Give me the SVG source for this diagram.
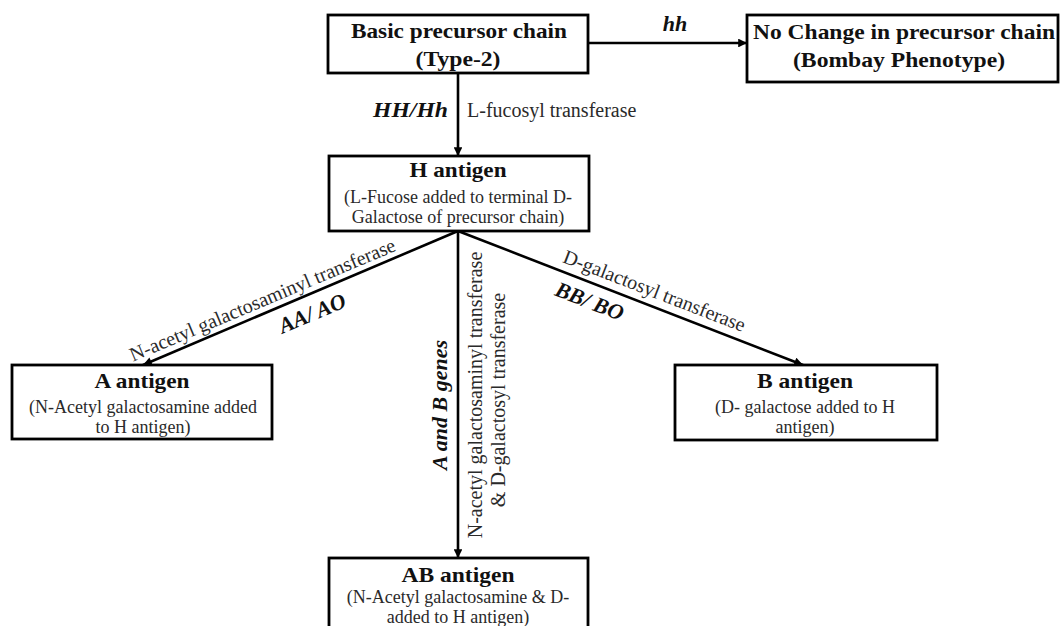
<svg xmlns="http://www.w3.org/2000/svg" width="1060" height="626" viewBox="0 0 1060 626">
  <style>
    .box { fill: #ffffff; stroke: #000000; stroke-width: 2.8; }
    .title { font-family: "Liberation Serif", "Times New Roman", serif; font-weight: bold; font-size: 21.5px; fill: #111; text-anchor: middle; }
    .sub { font-family: "Liberation Serif", "Times New Roman", serif; font-size: 18px; fill: #2a2a2a; text-anchor: middle; }
    .lbl { font-family: "Liberation Serif", "Times New Roman", serif; font-size: 20px; fill: #2a2a2a; }
    .gene { font-family: "Liberation Serif", "Times New Roman", serif; font-size: 22px; font-weight: bold; font-style: italic; fill: #111; }
    .link { stroke: #000000; stroke-width: 2.6; fill: none; marker-end: url(#arrow); }
  </style>
  <defs>
    <marker id="arrow" viewBox="0 0 10 10" refX="10" refY="5" markerWidth="3.6" markerHeight="3.4" markerUnits="strokeWidth" orient="auto">
      <path d="M0,0 L10,5 L0,10 z" fill="#000000"/>
    </marker>
  </defs>

  <!-- connectors with their labels -->
  <g id="connectors">
    <line class="link" x1="588" y1="43" x2="747" y2="43"/>
    <line class="link" x1="458" y1="73" x2="458" y2="156"/>
    <line class="link" x1="458" y1="231" x2="143" y2="365"/>
    <line class="link" x1="458" y1="231" x2="803" y2="365"/>
    <line class="link" x1="458" y1="231" x2="458" y2="558"/>

    <text class="gene" x="675" y="31" text-anchor="middle" font-size="23">hh</text>
    <text class="gene" x="448" y="117" text-anchor="end" textLength="75" lengthAdjust="spacingAndGlyphs">HH/Hh</text>
    <text class="lbl" x="467" y="117">L-fucosyl transferase</text>

    <text class="lbl" transform="translate(265,306) rotate(-22.9)" text-anchor="middle">N-acetyl galactosaminyl transferase</text>
    <text class="gene" transform="translate(315,320) rotate(-22.9)" text-anchor="middle">AA/ AO</text>

    <text class="lbl" transform="translate(652,297) rotate(21.2)" text-anchor="middle">D-galactosyl transferase</text>
    <text class="gene" transform="translate(587,308) rotate(21.2)" text-anchor="middle" font-size="23">BB/ BO</text>

    <text class="gene" transform="translate(447,405) rotate(-90)" text-anchor="middle">A and B genes</text>
    <text class="lbl" transform="translate(482,395) rotate(-90)" text-anchor="middle">N-acetyl galactosaminyl transferase</text>
    <text class="lbl" transform="translate(505,400) rotate(-90)" text-anchor="middle">&amp; D-galactosyl transferase</text>
  </g>

  <!-- nodes -->
  <g id="precursor">
    <rect class="box" x="328" y="15" width="260" height="58"/>
    <text class="title" x="459" y="38" textLength="216" lengthAdjust="spacingAndGlyphs">Basic precursor chain</text>
    <text class="title" x="458" y="66" textLength="85" lengthAdjust="spacingAndGlyphs">(Type-2)</text>
  </g>

  <g id="bombay">
    <rect class="box" x="747" y="15" width="311" height="67"/>
    <text class="title" x="904" y="39" textLength="302" lengthAdjust="spacingAndGlyphs">No Change in precursor chain</text>
    <text class="title" x="899" y="67" textLength="212" lengthAdjust="spacingAndGlyphs">(Bombay Phenotype)</text>
  </g>

  <g id="h-antigen">
    <rect class="box" x="329" y="156" width="260" height="75"/>
    <text class="title" x="458" y="177" textLength="97" lengthAdjust="spacingAndGlyphs">H antigen</text>
    <text class="sub" x="458" y="203">(L-Fucose added to terminal D-</text>
    <text class="sub" x="458" y="223">Galactose of precursor chain)</text>
  </g>

  <g id="a-antigen">
    <rect class="box" x="12" y="365" width="260" height="74"/>
    <text class="title" x="142" y="388" textLength="95" lengthAdjust="spacingAndGlyphs">A antigen</text>
    <text class="sub" x="143" y="413">(N-Acetyl galactosamine added</text>
    <text class="sub" x="143" y="433">to H antigen)</text>
  </g>

  <g id="b-antigen">
    <rect class="box" x="675" y="365" width="262" height="75"/>
    <text class="title" x="805" y="388" textLength="96" lengthAdjust="spacingAndGlyphs">B antigen</text>
    <text class="sub" x="805" y="413">(D- galactose added to H</text>
    <text class="sub" x="805" y="433">antigen)</text>
  </g>

  <g id="ab-antigen">
    <rect class="box" x="329" y="558" width="259" height="80"/>
    <text class="title" x="458" y="582" textLength="113" lengthAdjust="spacingAndGlyphs">AB antigen</text>
    <text class="sub" x="458" y="603">(N-Acetyl galactosamine &amp; D-</text>
    <text class="sub" x="458" y="623">added to H antigen)</text>
  </g>
</svg>
